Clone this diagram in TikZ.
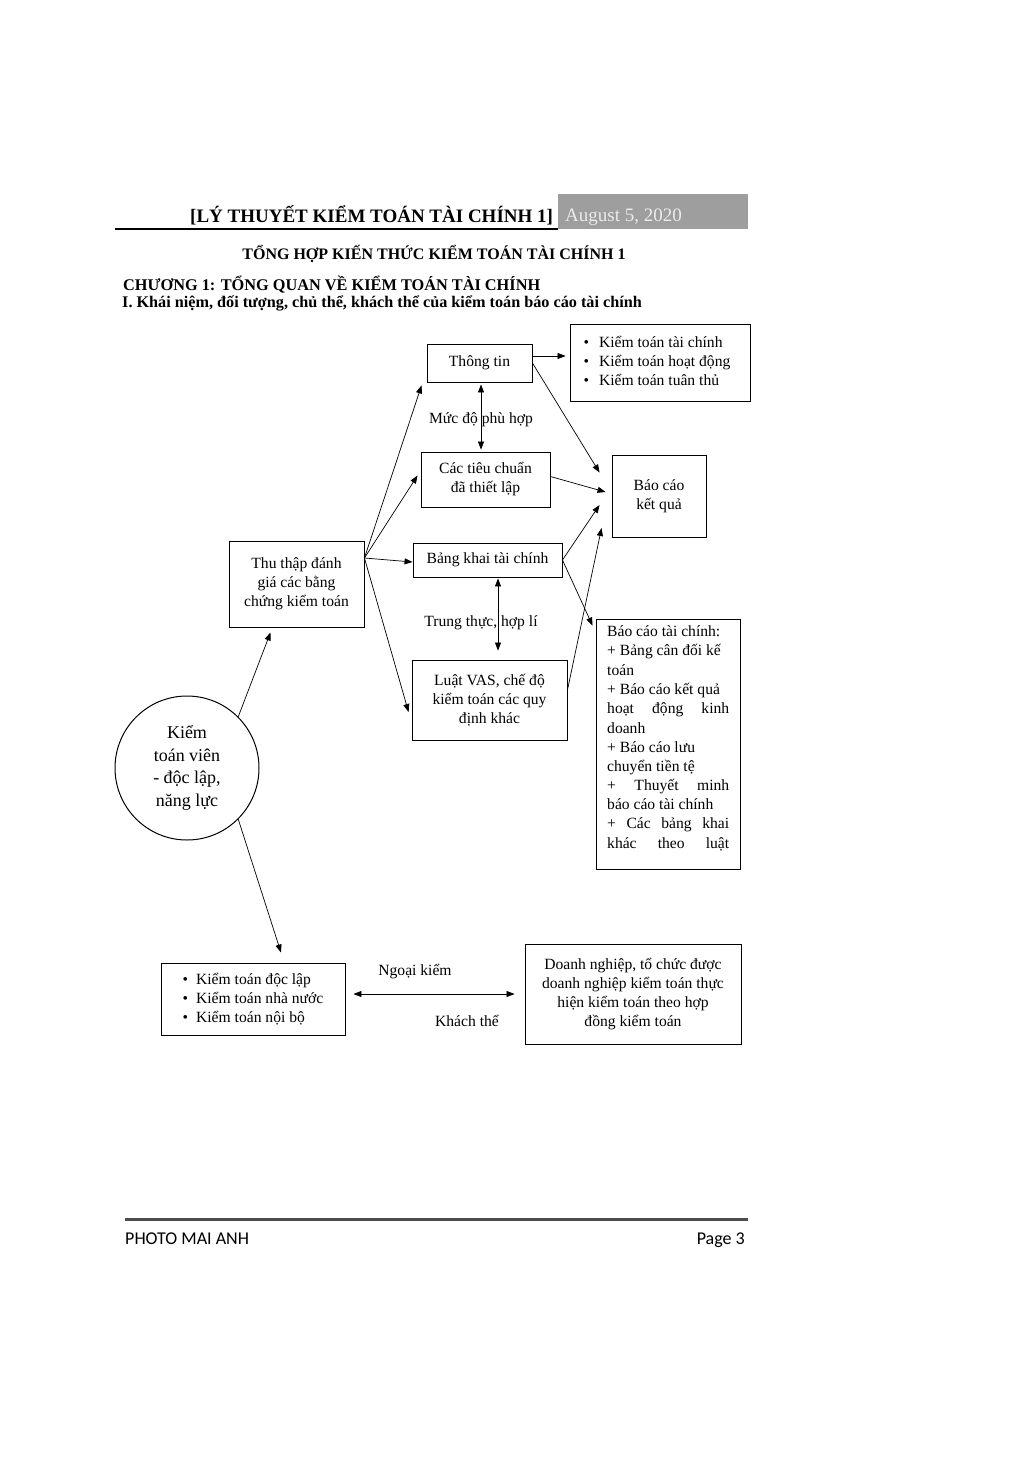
\documentclass[tikz,border=0pt]{standalone}
\usepackage{fontspec}
\setmainfont{Liberation Serif}
\newfontfamily\calib{Carlito}
\usetikzlibrary{arrows.meta,calc}
\newcommand{\bxf}{\fontsize{15.6}{19}\selectfont}
\begin{document}
\begin{tikzpicture}[x=1pt,y=-1pt,
  box/.style={draw, line width=0.9pt, inner sep=0pt, font=\bxf, align=center},
  arr/.style={-{Triangle[length=8pt,width=6pt]}, line width=0.7pt},
  darr/.style={{Triangle[length=8pt,width=6pt]}-{Triangle[length=8pt,width=6pt]}, line width=0.7pt},
  lbl/.style={font=\bxf, inner sep=0pt},
  bl/.style={font=\bxf, inner sep=0pt, anchor=base west}]
\fill[white] (0,0) rectangle (1033,1459);
\useasboundingbox (0,0) rectangle (1033,1459);
% header
\node[anchor=base west, inner sep=0pt, font=\bfseries\fontsize{19}{22}\selectfont] (h1) at (190,222) {[LÝ THUYẾT KIỂM TOÁN TÀI CHÍNH 1]};
\node[fill=black!38, minimum width=190, minimum height=35, inner sep=0pt] (gbox) at (653,211.5) {};
\node[anchor=base west, inner sep=0pt, text=black!8, font=\fontsize{19}{22}\selectfont] (date) at (565,221) {August 5, 2020};
\draw[line width=1.2pt] (115,229) -- (558,229);
\node[anchor=base, inner sep=0pt, font=\bfseries\fontsize{16}{19}\selectfont] (t1) at (434,259) {TỔNG HỢP KIẾN THỨC KIỂM TOÁN TÀI CHÍNH 1};
\node[anchor=base west, inner sep=0pt, font=\bfseries\fontsize{16.3}{19}\selectfont] (t2) at (123,290) {CHƯƠNG 1: TỔNG QUAN VỀ KIỂM TOÁN TÀI CHÍNH};
\node[anchor=base west, inner sep=0pt, font=\bfseries\fontsize{16.2}{19}\selectfont] (t3) at (122,307) {I. Khái niệm, đối tượng, chủ thể, khách thể của kiểm toán báo cáo tài chính};
% boxes
\node[box, minimum width=105, minimum height=38] (thong) at (479.5,363) {Thông tin};
\node[box, minimum width=180, minimum height=77, align=left, xshift=-3pt, yshift=2pt, fill=none, draw=none] (ktt) at (660,362.5) {\textbullet\hspace{10pt}Kiểm toán tài chính\\\textbullet\hspace{10pt}Kiểm toán hoạt động\\\textbullet\hspace{10pt}Kiểm toán tuân thủ};
\node[box, minimum width=180, minimum height=77] (kt) at (660,362.5) {};
\node[box, minimum width=129, minimum height=55] (tc) at (485.5,479.5) {Các tiêu chuẩn\\đã thiết lập};
\node[box, minimum width=94, minimum height=82] (bckq) at (659,496) {Báo cáo\\kết quả};
\node[box, minimum width=135, minimum height=86] (thu) at (296.5,584) {Thu thập đánh\\giá các bằng\\chứng kiểm toán};
\node[box, minimum width=149, minimum height=34] (bk) at (487.5,560) {Bảng khai tài chính};
\node[box, minimum width=155, minimum height=80] (luat) at (489.5,700) {Luật VAS, chế độ\\kiểm toán các quy\\định khác};
\node[box, minimum width=144, minimum height=250] (bctc) at (668,744) {};
\node[bl] (b1) at (607,636) {Báo cáo tài chính:};
\node[bl] (b2) at (607,655) {+ Bảng cân đối kế};
\node[bl] (b3) at (607,675) {toán};
\node[bl] (b4) at (607,694) {+ Báo cáo kết quả};
\node[bl] (b5) at (607,713) {\hbox to 122pt{hoạt\hfill động\hfill kinh}};
\node[bl] (b6) at (607,733) {doanh};
\node[bl] (b7) at (607,752) {+ Báo cáo lưu};
\node[bl] (b8) at (607,771) {chuyển tiền tệ};
\node[bl] (b9) at (607,790) {\hbox to 122pt{+\hfill Thuyết\hfill minh}};
\node[bl] (b10) at (607,809) {báo cáo tài chính};
\node[bl] (b11) at (607,828) {\hbox to 122pt{+\hfill Các\hfill bảng\hfill khai}};
\node[bl] (b12) at (607,848) {\hbox to 122pt{khác\hfill theo\hfill luật}};
\node[circle, draw, line width=1pt, minimum size=144, inner sep=0pt, align=center, font=\fontsize{18}{22.5}\selectfont] (circ) at (187,768) {Kiểm\\toán viên\\- độc lập,\\năng lực};
\node[box, minimum width=184, minimum height=72, align=left] (kt2) at (253,999) {\textbullet\hspace{8pt}Kiểm toán độc lập\\\textbullet\hspace{8pt}Kiểm toán nhà nước\\\textbullet\hspace{8pt}Kiểm toán nội bộ};
\node[box, minimum width=216, minimum height=100] (dn) at (633,994) {Doanh nghiệp, tổ chức được\\doanh nghiệp kiểm toán thực\\hiện kiểm toán theo hợp\\đồng kiểm toán};
% labels
\node[lbl, anchor=base] (l1) at (481,423) {Mức độ phù hợp};
\node[lbl, anchor=base] (l2) at (481,626) {Trung thực, hợp lí};
\node[lbl, anchor=base] (l3) at (415,975) {Ngoại kiểm};
\node[lbl, anchor=base] (l4) at (467,1026) {Khách thể};
% connectors
\coordinate (thuR) at ([yshift=26pt]thu.east);
\draw[arr] ([yshift=7pt]thong.east) -- ([yshift=7pt,xshift=-4pt]thong.east -| kt.west);
\draw[arr] (thong.east) -- ([xshift=-12pt,yshift=-18pt]bckq.north west);
\draw[darr, shorten <=2pt, shorten >=2pt] ([xshift=1.5pt]thong.south) -- ([xshift=1.5pt]thong.south |- tc.north);
\draw[arr] ([yshift=3pt]tc.east) -- ([xshift=-6pt,yshift=4pt]bckq.west);
\draw[arr] (thuR) -- ([xshift=-5pt,yshift=-3pt]thong.south west);
\draw[arr] (thuR) -- ([xshift=-3pt,yshift=4pt]tc.west);
\draw[arr] (thuR) -- ([yshift=-2pt]bk.west);
\draw[arr] (thuR) -- ([xshift=-3pt,yshift=-12pt]luat.west);
\draw[arr] (bk.east) -- ([xshift=-12pt,yshift=-9pt]bckq.west);
\draw[arr] (bk.east) -- ([xshift=-3pt,yshift=-7pt]bctc.north west);
\draw[arr] ([yshift=10pt]luat.east) -- ([xshift=-10pt,yshift=-32pt]bckq.west);
\draw[darr, shorten >=9pt, shorten <=1pt] ([xshift=10.5pt]bk.south) -- ([xshift=10.5pt]bk.south |- luat.north);
\draw[arr] (circ.45) -- ([xshift=-26pt,yshift=-5pt]thu.south);
\draw[arr] (circ.-45) -- ([xshift=28pt,yshift=10pt]kt2.north);
\draw[darr] ([xshift=8pt]kt2.east |- dn.west) -- ([xshift=-10pt]dn.west);
% footer
\draw[line width=3pt, black!70] (125,1219) -- (748,1219);
\node[anchor=base west, inner sep=0pt, font=\calib\fontsize{18}{21}\selectfont] (f1) at (125,1244) {PHOTO MAI ANH};
\node[anchor=base east, inner sep=0pt, font=\calib\fontsize{18}{21}\selectfont] (f2) at (745,1244) {Page 3};
\end{tikzpicture}
\end{document}
